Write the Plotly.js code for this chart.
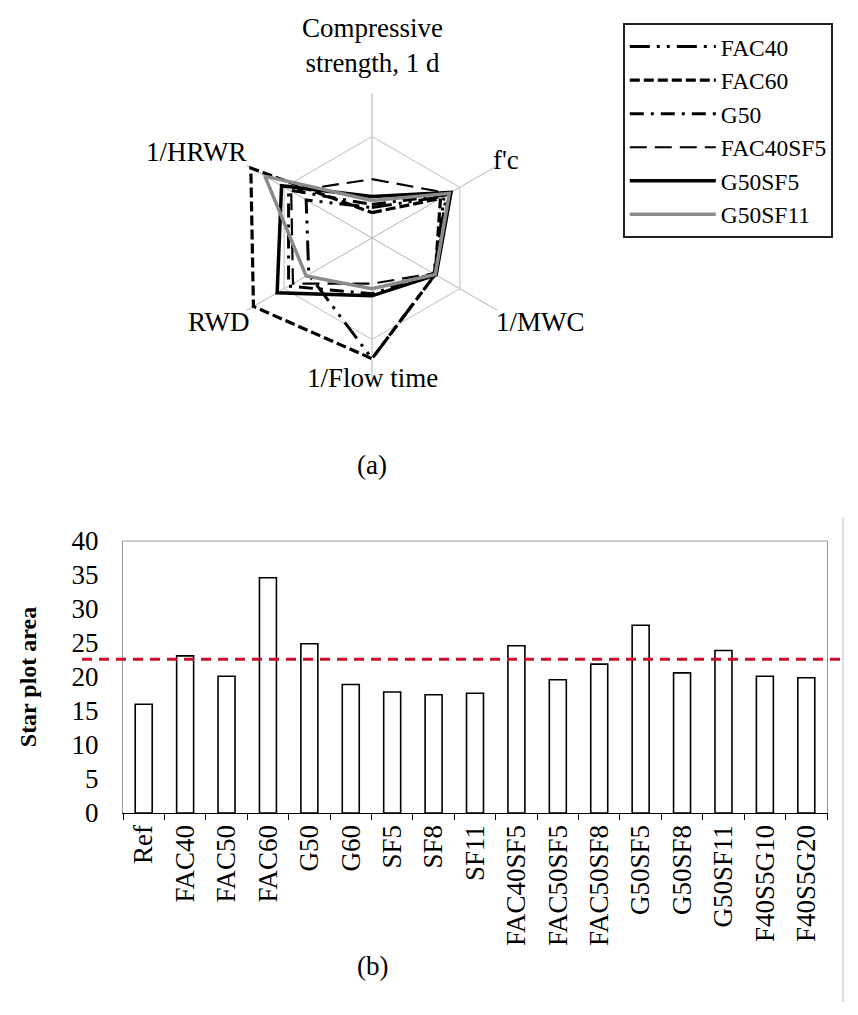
<!DOCTYPE html>
<html>
<head>
<meta charset="utf-8">
<script src="https://cdn.plot.ly/plotly-3.0.1.min.js"></script>
<style>html,body{margin:0;padding:0;background:#fff;}#chart{width:858px;height:1015px;}</style>
</head>
<body>
<div id="chart"></div>
<script>
// ---- Radar (a) data ----
const radarAxes = ["Compressive<br>strength, 1 d", "f'c", "1/MWC", "1/Flow time", "RWD", "1/HRWR"];
const seriesNames = ["FAC40", "FAC60", "G50", "FAC40SF5", "G50SF5", "G50SF11"];
const FAC40    = [0.30, 0.82, 0.72, 1.19, 0.72, 0.75];
const FAC60    = [0.25, 0.78, 0.72, 1.19, 1.35, 1.38];
const G50      = [0.33, 0.85, 0.70, 0.55, 0.95, 0.95];
const FAC40SF5 = [0.58, 0.88, 0.70, 0.45, 0.90, 0.92];
const G50SF5   = [0.41, 0.90, 0.73, 0.57, 1.08, 1.03];
const G50SF11  = [0.37, 0.88, 0.72, 0.50, 0.75, 1.22];

// ---- Bar (b) data ----
const mixes = ["Ref","FAC40","FAC50","FAC60","G50","G60","SF5","SF8","SF11","FAC40SF5","FAC50SF5","FAC50SF8","G50SF5","G50SF8","G50SF11","F40S5G10","F40S5G20"];
const starArea = [16.0, 23.1, 20.1, 34.6, 24.9, 18.9, 17.8, 17.4, 17.6, 24.6, 19.6, 21.9, 27.6, 20.6, 23.9, 20.1, 19.9];
const refLineValue = 22.6;

// ---- layout helpers (pixel -> paper) ----
const W = 858, H = 1015;
const mL = 123, mR = 31, mT = 0, mB = 202;
const pw = W - mL - mR, ph = H - mT - mB;
const px = x => (x - mL) / pw;
const py = y => (H - mB - y) / ph;

const serif = "Liberation Serif, Times New Roman, serif";
const styles = {
  FAC40:    {color: "#000000", width: 3,   dash: "20px,7px,3px,7px,3px,7px"},
  FAC60:    {color: "#000000", width: 3.2, dash: "10px,4px"},
  G50:      {color: "#000000", width: 3,   dash: "14px,7px,3px,7px"},
  FAC40SF5: {color: "#000000", width: 2.2, dash: "17px,8px"},
  G50SF5:   {color: "#000000", width: 3.5, dash: "solid"},
  G50SF11:  {color: "#8a8a8a", width: 3.5, dash: "solid"}
};
const seriesData = {FAC40, FAC60, G50, FAC40SF5, G50SF5, G50SF11};

const traces = seriesNames.map(name => ({
  type: "scatterpolar",
  mode: "lines",
  name: name,
  r: seriesData[name].concat([seriesData[name][0]]),
  theta: radarAxes.concat([radarAxes[0]]),
  line: styles[name],
  subplot: "polar",
  hoverinfo: "skip"
}));

traces.push({
  type: "bar",
  x: mixes,
  y: starArea,
  marker: {color: "#ffffff", line: {color: "#000000", width: 1.6}},
  showlegend: false,
  xaxis: "x", yaxis: "y",
  hoverinfo: "skip"
});

// label placement (pixel centres) for the radar axis names
const labelPos = [[372, 45], [506, 160], [540, 322], [372, 378], [219, 322], [196, 152]];
const radarLabels = radarAxes.map((t, i) => ({
  text: t, xref: "paper", yref: "paper",
  x: px(labelPos[i][0]), y: py(labelPos[i][1]),
  xanchor: "center", yanchor: "middle", showarrow: false,
  font: {family: serif, size: 27, color: "#000"}
}));

const layout = {
  width: W, height: H,
  margin: {l: mL, r: mR, t: mT, b: mB},
  paper_bgcolor: "#ffffff",
  plot_bgcolor: "#ffffff",
  font: {family: serif, color: "#000", size: 26},
  showlegend: true,
  legend: {
    x: px(623), y: py(23), xanchor: "left", yanchor: "top",
    bgcolor: "#ffffff", bordercolor: "#222", borderwidth: 1.8,
    font: {family: serif, size: 23.5, color: "#000"},
    itemwidth: 86, tracegroupgap: 0
  },
  polar: {
    domain: {x: [px(227), px(517)], y: [py(383), py(93)]},
    bgcolor: "#ffffff",
    angularaxis: {
      type: "category",
      direction: "clockwise",
      rotation: 90,
      showline: false,
      ticks: "",
      showticklabels: false,
      gridcolor: "#b4b4b4",
      gridwidth: 1
    },
    radialaxis: {
      range: [0, 1.43],
      tickvals: [1],
      showticklabels: false,
      ticks: "",
      showline: false,
      gridcolor: "#c8c8c8",
      gridwidth: 1.2
    },
    gridshape: "linear"
  },
  xaxis: {
    domain: [0, 1],
    anchor: "y",
    showline: true, linecolor: "#000", linewidth: 1.2,
    ticks: "outside", tickson: "boundaries", ticklen: 6, tickcolor: "#000",
    tickangle: -90,
    tickfont: {family: serif, size: 27, color: "#000"},
    showgrid: false, zeroline: false, fixedrange: true
  },
  yaxis: {
    domain: [0, py(541)],
    anchor: "x",
    range: [0, 40],
    dtick: 5,
    showline: true, linecolor: "#9a9a9a", linewidth: 1, mirror: true,
    ticks: "", ticklabelstandoff: 18,
    tickfont: {family: serif, size: 27, color: "#000"},
    showgrid: false, zeroline: false,
    title: {text: "<b>Star plot area</b>", font: {family: serif, size: 24, color: "#000"}, standoff: 28},
    automargin: false
  },
  bargap: 0.59,
  shapes: [
    {type: "line", xref: "paper", yref: "paper", x0: 0, x1: 1, y0: py(541), y1: py(541),
     line: {color: "#9a9a9a", width: 1}},
    {type: "line", xref: "paper", yref: "y", x0: px(82), x1: px(845), y0: refLineValue, y1: refLineValue,
     line: {color: "#c8102e", width: 3, dash: "10px,7px"}},
    {type: "line", xref: "paper", yref: "paper", x0: px(843), x1: px(843), y0: py(517), y1: py(1002),
     line: {color: "#bdbdbd", width: 1}}
  ],
  annotations: radarLabels.concat([
    {text: "(a)", xref: "paper", yref: "paper", x: px(372), y: py(465), showarrow: false,
     font: {family: serif, size: 27, color: "#000"}},
    {text: "(b)", xref: "paper", yref: "paper", x: px(372), y: py(983), showarrow: false,
     font: {family: serif, size: 27, color: "#000"}}
  ])
};

Plotly.newPlot("chart", traces, layout, {displayModeBar: false, staticPlot: true});
</script>
</body>
</html>
